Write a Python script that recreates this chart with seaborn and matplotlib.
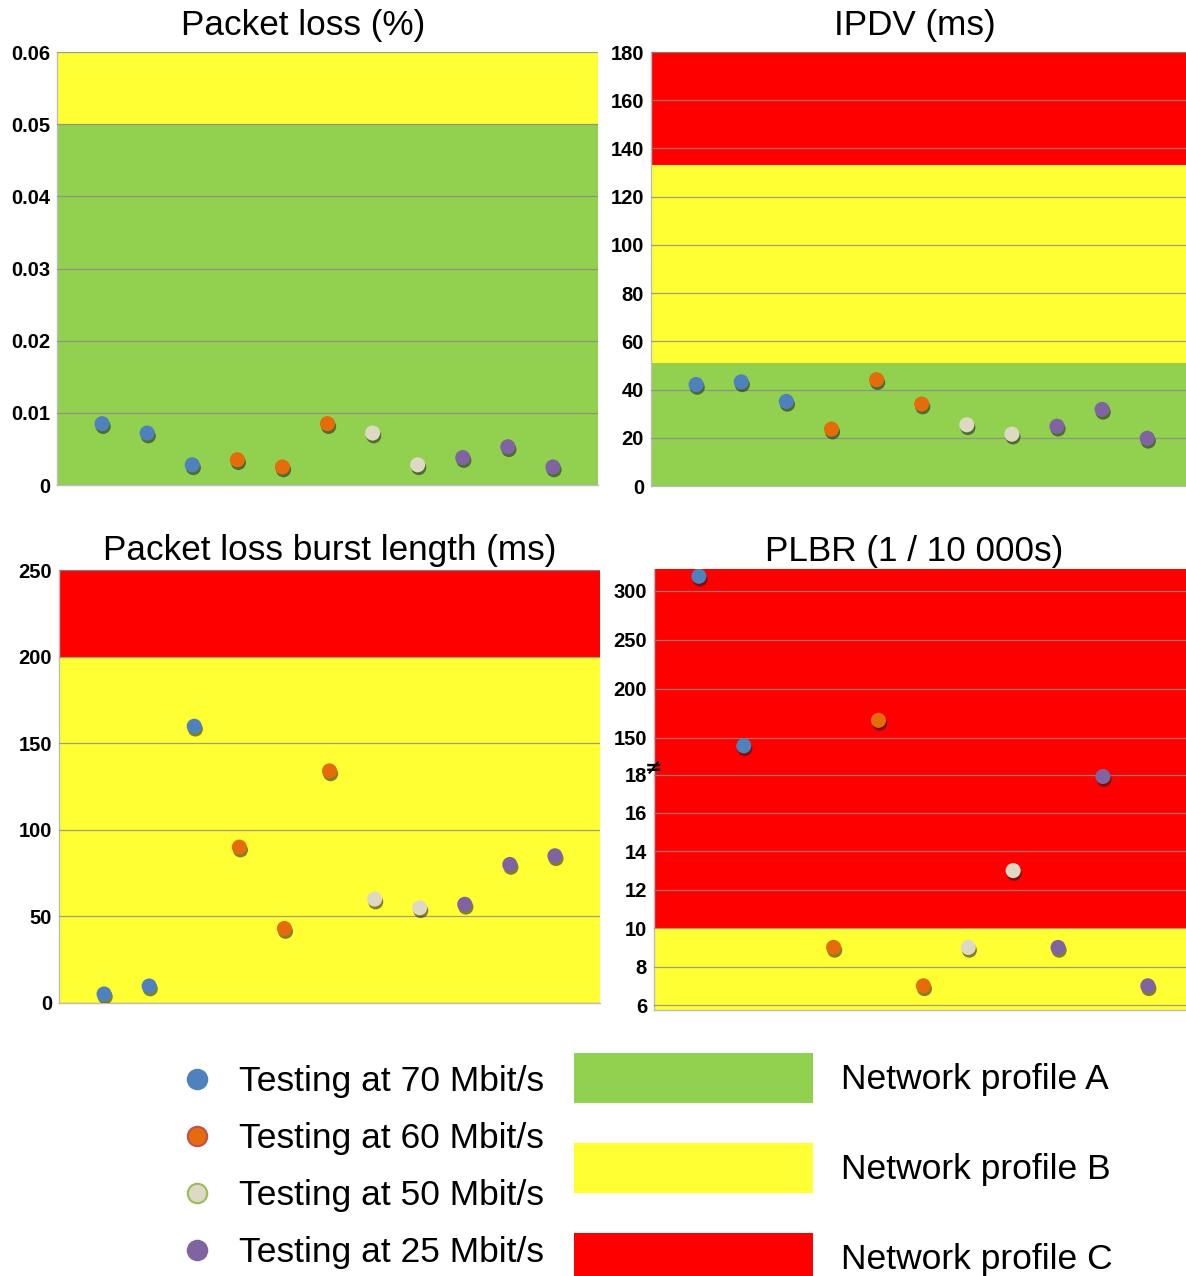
import numpy as np
import pandas as pd
import matplotlib
matplotlib.use("Agg")
import matplotlib.pyplot as plt
import matplotlib.patheffects as pe
from matplotlib.lines import Line2D
from matplotlib.patches import Patch
from matplotlib.ticker import FixedLocator, NullLocator
import seaborn as sns

# ---- data -------------------------------------------------------------
series_names = ["Testing at 70 Mbit/s", "Testing at 60 Mbit/s",
                "Testing at 50 Mbit/s", "Testing at 25 Mbit/s"]
series_colors = ["#4f81bd", "#e46c0a", "#ddd9c3", "#8064a2"]
legend_edges = ["#4f81bd", "#c0504d", "#9bbb59", "#8064a2"]

runs = list(range(1, 12))
run_series = [0, 0, 0, 1, 1, 1, 2, 2, 3, 3, 3]

packet_loss = [0.0085, 0.0072, 0.0028, 0.0035, 0.0025, 0.0085,
               0.0072, 0.0028, 0.0038, 0.0053, 0.0025]
ipdv = [42.1, 43.2, 35.1, 23.6, 44.1, 34.0, 25.4, 21.5, 24.8, 31.8, 19.8]
burst_length = [5.2, 9.8, 159.8, 90.0, 43.0, 134.0, 60.0, 55.0, 57.0, 80.0, 85.0]
plbr = [315, 142, None, 9, 168, 7, 9, 13, 9, 17.9, 7]

profile_names = ["Network profile A", "Network profile B", "Network profile C"]
profile_colors = ["#92d050", "#ffff33", "#ff0000"]

packet_loss_bands = [(0, 0.05, 0), (0.05, 0.06, 1)]
ipdv_bands = [(0, 51, 0), (51, 133, 1), (133, 180, 2)]
burst_bands = [(0, 200, 1), (200, 250, 2)]
plbr_bands = [(5.74, 10, 1), (10, 322.4, 2)]

packet_loss_ticks = [0, 0.01, 0.02, 0.03, 0.04, 0.05, 0.06]
packet_loss_labels = ["0", "0.01", "0.02", "0.03", "0.04", "0.05", "0.06"]
ipdv_ticks = [0, 20, 40, 60, 80, 100, 120, 140, 160, 180]
burst_ticks = [0, 50, 100, 150, 200, 250]
plbr_ticks = [6, 8, 10, 12, 14, 16, 18, 150, 200, 250, 300]

# ---- broken scale for PLBR: 6..18 stretched, 120..320 compressed -------
LOW_SLOPE = 19.2      # per unit below the break
HIGH_SLOPE = 0.98     # per unit above the break
P18 = (18 - 6) * LOW_SLOPE
P150 = 267.0
BREAK_V = 120.0
P_BREAK = P150 + (BREAK_V - 150) * HIGH_SLOPE


def plbr_fwd(v):
    v = np.asarray(v, dtype=float)
    low = (v - 6) * LOW_SLOPE
    mid = P18 + (v - 18) * (P_BREAK - P18) / (BREAK_V - 18)
    high = P150 + (v - 150) * HIGH_SLOPE
    return np.where(v <= 18, low, np.where(v < BREAK_V, mid, high))


def plbr_inv(p):
    p = np.asarray(p, dtype=float)
    low = 6 + p / LOW_SLOPE
    mid = 18 + (p - P18) * (BREAK_V - 18) / (P_BREAK - P18)
    high = 150 + (p - P150) / HIGH_SLOPE
    return np.where(p <= P18, low, np.where(p < P_BREAK, mid, high))


# ---- figure -----------------------------------------------------------
sns.set_theme(style="white")
plt.rcParams["font.family"] = ["Liberation Sans", "DejaVu Sans"]
plt.rcParams["text.color"] = "black"
plt.rcParams["ytick.color"] = "black"
plt.rcParams["xtick.color"] = "black"

W, H = 1186, 1276
fig = plt.figure(figsize=(W / 100, H / 100), dpi=100)


def box(left, top, right, bottom):
    return [left / W, 1 - bottom / H, (right - left) / W, (bottom - top) / H]


panels = [
    dict(title="Packet loss (%)", values=packet_loss, bands=packet_loss_bands,
         ylim=(0, 0.06), ticks=packet_loss_ticks, labels=packet_loss_labels,
         rect=box(57, 52, 598, 485), xmax=12, title_x=0.455, pad=12),
    dict(title="IPDV (ms)", values=ipdv, bands=ipdv_bands,
         ylim=(0, 180), ticks=ipdv_ticks, labels=[str(t) for t in ipdv_ticks],
         rect=box(651, 52, 1186, 486), xmax=11.86, title_x=0.494, pad=12),
    dict(title="Packet loss burst length (ms)", values=burst_length,
         bands=burst_bands, ylim=(0, 250), ticks=burst_ticks,
         labels=[str(t) for t in burst_ticks],
         rect=box(59, 570, 600, 1003), xmax=12, title_x=0.5, pad=7),
    dict(title="PLBR (1 / 10 000s)", values=plbr, bands=plbr_bands,
         ylim=(5.74, 322.4), ticks=plbr_ticks,
         labels=[str(t) for t in plbr_ticks],
         rect=box(654, 569, 1186, 1010), xmax=11.85, title_x=0.489, pad=6,
         broken=True),
]

palette = dict(zip(series_names, series_colors))
shadow = [pe.SimplePatchShadow(offset=(0.8, -2.0), shadow_rgbFace="#1a1a1a",
                               alpha=0.55), pe.Normal()]

for spec in panels:
    ax = fig.add_axes(spec["rect"])
    if spec.get("broken"):
        ax.set_yscale("function", functions=(plbr_fwd, plbr_inv))
    for lo, hi, k in spec["bands"]:
        ax.axhspan(lo, hi, color=profile_colors[k], lw=0, zorder=0)

    df = pd.DataFrame({"run": runs, "value": spec["values"],
                       "series": [series_names[i] for i in run_series]}).dropna()
    sns.scatterplot(data=df, x="run", y="value", hue="series",
                    hue_order=series_names, palette=palette, s=118,
                    edgecolor="none", linewidth=0, legend=False, ax=ax,
                    zorder=3)
    ax.collections[-1].set_path_effects(shadow)

    ax.set_xlim(0, spec["xmax"])
    ax.set_ylim(*spec["ylim"])
    ax.yaxis.set_major_locator(FixedLocator(spec["ticks"]))
    ax.yaxis.set_minor_locator(NullLocator())
    ax.set_yticklabels(spec["labels"], fontsize=14.5, fontweight="bold",
                       color="black")
    ax.set_xticks([])
    ax.set_xlabel("")
    ax.set_ylabel("")
    ax.tick_params(axis="y", length=0, pad=5)
    ax.grid(axis="y", color="#8a8a8a", lw=0.9, alpha=0.8, zorder=1)
    ax.set_axisbelow(False)
    for line in ax.get_ygridlines():
        line.set_zorder(1)
    for side in ("top", "right"):
        ax.spines[side].set_visible(False)
    for side in ("left", "bottom"):
        ax.spines[side].set_color("#bdbdbd")
        ax.spines[side].set_linewidth(1)
    ax.set_title(spec["title"], fontsize=25.3, x=spec["title_x"],
                 pad=spec["pad"], color="black")

    if spec.get("broken"):
        ax.text(0, 112, "\u2260", transform=ax.get_yaxis_transform(),
                ha="center", va="center", fontsize=15, fontweight="bold",
                family="DejaVu Sans", zorder=5)

# ---- legends ----------------------------------------------------------
series_handles = [
    Line2D([], [], ls="none", marker="o", markersize=14,
           markerfacecolor=c, markeredgecolor=e, markeredgewidth=1.5)
    for c, e in zip(series_colors, legend_edges)
]
fig.legend(series_handles, series_names, loc="upper left",
           bbox_to_anchor=(179 / W, 1 - 1065 / H), frameon=False,
           fontsize=25.5, handlelength=1.0, handletextpad=0.7,
           labelspacing=0.68, borderpad=0, borderaxespad=0)

profile_handles = [Patch(facecolor=c, edgecolor="none") for c in profile_colors]
fig.legend(profile_handles, profile_names, loc="upper left",
           bbox_to_anchor=(574 / W, 1 - 1053 / H), frameon=False,
           fontsize=25.5, handlelength=6.75, handleheight=1.8,
           handletextpad=0.8, labelspacing=1.12, borderpad=0,
           borderaxespad=0)

fig.savefig("out.png", dpi=100)
